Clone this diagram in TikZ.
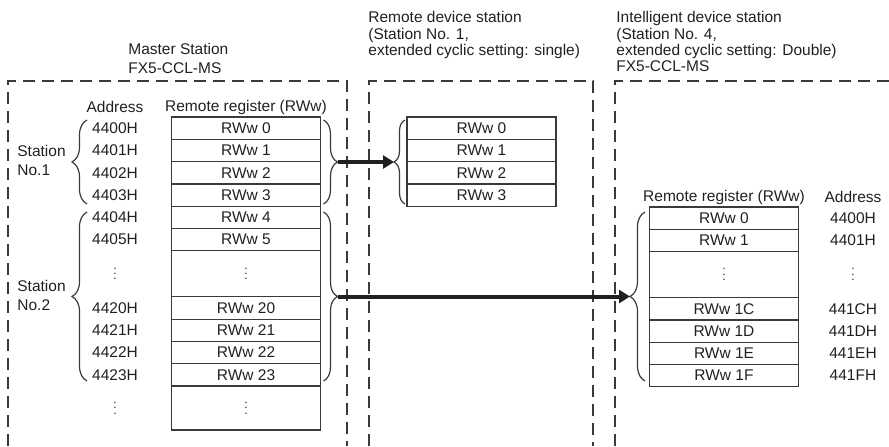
\documentclass[tikz,border=0pt]{standalone}
\usepackage{fontspec}
\setmainfont{Liberation Sans}
\usetikzlibrary{arrows.meta, positioning, calc, decorations.pathreplacing}
\definecolor{ink}{HTML}{231F20}
\definecolor{frame}{HTML}{3A3A3A}
\newcommand{\smalldots}{\vbox{\fontsize{6}{6}\selectfont\baselineskip=2.7pt\lineskiplimit=-5pt\hbox{.}\hbox{.}\hbox{.}}}

\begin{document}
\begin{tikzpicture}[x=0.5pt, y=-0.5pt, >=Triangle,
  every node/.style={font=\fontsize{7.75}{9.5}\selectfont, text=ink},
  cell/.style={rectangle, draw=frame, line width=0.6pt, minimum width=74.5pt, minimum height=#1, inner sep=0pt, outer sep=0pt},
  cell/.default=11.15pt,
  hdr/.style={inner sep=0pt, align=left},
  addr/.style={inner sep=0pt},
  curly/.style={decorate, decoration={brace, amplitude=#1}, draw=frame, line width=0.6pt},
  zone/.style={draw=frame, line width=0.55pt, dash pattern=on 6pt off 3.5pt},
  conn/.style={-{Triangle[length=5.5pt, width=6.5pt]}, line width=2pt, draw=ink}]
  \useasboundingbox (0,0) rectangle (889,446);

  % station frames
  \draw[zone] (8,446) -- (8,81) -- (347,81) -- (347,446);
  \draw[zone] (369,446) -- (369,81) -- (593,81) -- (593,446);
  \draw[zone] (615,446) -- (615,81) -- (889,81);

  \node[hdr, anchor=north west] (mhead) at (128,43) {Master Station\\FX5-CCL-MS};
  \node[hdr, anchor=north west, font=\fontsize{7.75}{8.2}\selectfont] (rhead) at (368,11)
    {Remote device station\\(Station No. 1,\\extended cyclic setting: single)};
  \node[hdr, anchor=north west, font=\fontsize{7.75}{8.2}\selectfont] (ihead) at (616,11)
    {Intelligent device station\\(Station No. 4,\\extended cyclic setting: Double)\\FX5-CCL-MS};

  % master station registers
  \node[cell, anchor=north] (m0) at (246,117) {RWw 0};
  \node[cell, below=0pt of m0] (m1) {RWw 1};
  \node[cell, below=0pt of m1] (m2) {RWw 2};
  \node[cell, below=0pt of m2] (m3) {RWw 3};
  \node[cell, below=0pt of m3] (m4) {RWw 4};
  \node[cell, below=0pt of m4] (m5) {RWw 5};
  \node[cell=23pt, below=0pt of m5] (mdots) {\smalldots};
  \node[cell, below=0pt of mdots] (m20) {RWw 20};
  \node[cell, below=0pt of m20] (m21) {RWw 21};
  \node[cell, below=0pt of m21] (m22) {RWw 22};
  \node[cell, below=0pt of m22] (m23) {RWw 23};
  \node[cell=22pt, below=0pt of m23] (mend) {\smalldots};
  \node[hdr, above=1pt of m0] (mreg) {Remote register (RWw)};

  \coordinate (macol) at (115,0);
  \node[addr] (mad) at (mreg -| macol) {Address};
  \node[addr] (ma0) at (m0 -| macol) {4400H};
  \node[addr] (ma1) at (m1 -| macol) {4401H};
  \node[addr] (ma2) at (m2 -| macol) {4402H};
  \node[addr] (ma3) at (m3 -| macol) {4403H};
  \node[addr] (ma4) at (m4 -| macol) {4404H};
  \node[addr] (ma5) at (m5 -| macol) {4405H};
  \node[addr] (madots) at (mdots -| macol) {\smalldots};
  \node[addr] (ma20) at (m20 -| macol) {4420H};
  \node[addr] (ma21) at (m21 -| macol) {4421H};
  \node[addr] (ma22) at (m22 -| macol) {4422H};
  \node[addr] (ma23) at (m23 -| macol) {4423H};
  \node[addr] (maend) at (mend -| macol) {\smalldots};

  \node[hdr, anchor=west] (st1) at (17,160) {Station\\No.1};
  \node[hdr, anchor=west] (st2) at (17,295) {Station\\No.2};
  \draw[curly=7.5pt] (87,204) -- (87,120);
  \draw[curly=7.5pt] (87,381) -- (87,212);
  \draw[curly=7pt] (323.5,120) -- (323.5,204);
  \draw[curly=7pt] (323.5,212) -- (323.5,381);

  % remote device station
  \node[cell, anchor=north] (r0) at (481.5,117) {RWw 0};
  \node[cell, below=0pt of r0] (r1) {RWw 1};
  \node[cell, below=0pt of r1] (r2) {RWw 2};
  \node[cell, below=0pt of r2] (r3) {RWw 3};
  \draw[curly=5.5pt] (405,204) -- (405,120);

  % intelligent device station
  \node[cell, anchor=north] (i0) at (724,207) {RWw 0};
  \node[cell, below=0pt of i0] (i1) {RWw 1};
  \node[cell=23pt, below=0pt of i1] (idots) {\smalldots};
  \node[cell, below=0pt of idots] (i1C) {RWw 1C};
  \node[cell, below=0pt of i1C] (i1D) {RWw 1D};
  \node[cell, below=0pt of i1D] (i1E) {RWw 1E};
  \node[cell, below=0pt of i1E] (i1F) {RWw 1F};
  \node[hdr, above=1pt of i0] (ireg) {Remote register (RWw)};

  \coordinate (iacol) at (853,0);
  \node[addr] (iad) at (ireg -| iacol) {Address};
  \node[addr] (ia0) at (i0 -| iacol) {4400H};
  \node[addr] (ia1) at (i1 -| iacol) {4401H};
  \node[addr] (iadots) at (idots -| iacol) {\smalldots};
  \node[addr] (ia1C) at (i1C -| iacol) {441CH};
  \node[addr] (ia1D) at (i1D -| iacol) {441DH};
  \node[addr] (ia1E) at (i1E -| iacol) {441EH};
  \node[addr] (ia1F) at (i1F -| iacol) {441FH};
  \draw[curly=7.5pt] (645,381) -- (645,212);

  % transfers
  \coordinate (mtip1) at (337.5,162);
  \coordinate (rtip) at (394,162);
  \coordinate (mtip2) at (337.5,296.5);
  \coordinate (itip) at (630,296.5);
  \draw[conn] (mtip1) -- (rtip);
  \draw[conn] (mtip2) -- (itip);
\end{tikzpicture}
\end{document}
